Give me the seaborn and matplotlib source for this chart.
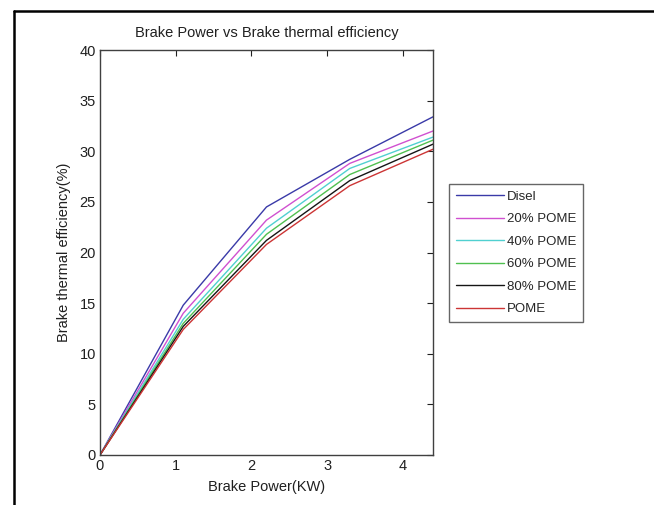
import matplotlib
matplotlib.use("Agg")
import matplotlib.pyplot as plt
import seaborn as sns
import pandas as pd
from matplotlib.lines import Line2D

# ---- data ----
brake_power = [0.0, 1.1, 2.2, 3.3, 4.4]
disel = [0.0, 14.8, 24.5, 29.2, 33.4]
pome20 = [0.0, 14.0, 23.2, 28.8, 32.0]
pome40 = [0.0, 13.4, 22.4, 28.3, 31.4]
pome60 = [0.0, 13.0, 21.8, 27.7, 31.1]
pome80 = [0.0, 12.7, 21.2, 27.1, 30.7]
pome100 = [0.0, 12.4, 20.8, 26.6, 30.2]
series_names = ["Disel", "20% POME", "40% POME", "60% POME", "80% POME", "POME"]
series_values = [disel, pome20, pome40, pome60, pome80, pome100]
colors = ["#3a3aa8", "#d050d0", "#50d0d0", "#50c050", "#151515", "#cc3535"]
x_ticks = [0, 1, 2, 3, 4]
y_ticks = [0, 5, 10, 15, 20, 25, 30, 35, 40]

rows = []
for name, vals in zip(series_names, series_values):
    for xv, yv in zip(brake_power, vals):
        rows.append({"Brake Power": xv, "BTE": yv, "Fuel": name})
df = pd.DataFrame(rows)

sns.set_style("white")
plt.rcParams["font.family"] = ["Liberation Sans", "DejaVu Sans"]

W, H = 654, 505
fig = plt.figure(figsize=(W / 100, H / 100), dpi=100)
ax = fig.add_axes([100 / W, 1 - 455 / H, 333 / W, 405 / H])

sns.lineplot(data=df, x="Brake Power", y="BTE", hue="Fuel",
             hue_order=series_names, palette=colors, linewidth=1.0,
             ax=ax, legend=True)

ax.set_xlim(0, 4.4)
ax.set_ylim(0, 40)
ax.set_xticks(x_ticks)
ax.set_yticks(y_ticks)
ax.tick_params(direction="in", length=4, width=0.8, top=True, right=True,
               labelsize=10.5, colors="#202020", pad=3)
for s in ax.spines.values():
    s.set_visible(True)
    s.set_color("#404040")
    s.set_linewidth(1.0)

ax.set_xlabel("Brake Power(KW)", fontsize=10.5, labelpad=5, color="#202020")
ax.set_ylabel("Brake thermal efficiency(%)", fontsize=10.5, labelpad=6, color="#202020")
ax.set_title("Brake Power vs Brake thermal efficiency", fontsize=10.5, pad=9, color="#202020")

handles, labels = ax.get_legend_handles_labels()
ax.legend(handles, labels, loc="upper left",
          bbox_to_anchor=(449 / W, 1 - 184 / H), bbox_transform=fig.transFigure,
          borderaxespad=0, fontsize=9.5, frameon=True, fancybox=False,
          edgecolor="#404040", handlelength=3.7, handletextpad=0.2,
          labelspacing=0.78, borderpad=0.5, title=None)
leg = ax.get_legend()
leg.get_frame().set_linewidth(1.0)

# outer frame (top and left edges)
fig.add_artist(Line2D([14 / W, 1.0], [1 - 11 / H, 1 - 11 / H],
                      transform=fig.transFigure, color="black", linewidth=1.8))
fig.add_artist(Line2D([14 / W, 14 / W], [1 - 11 / H, 0.0],
                      transform=fig.transFigure, color="black", linewidth=1.8))

fig.savefig("out.png", dpi=100)
